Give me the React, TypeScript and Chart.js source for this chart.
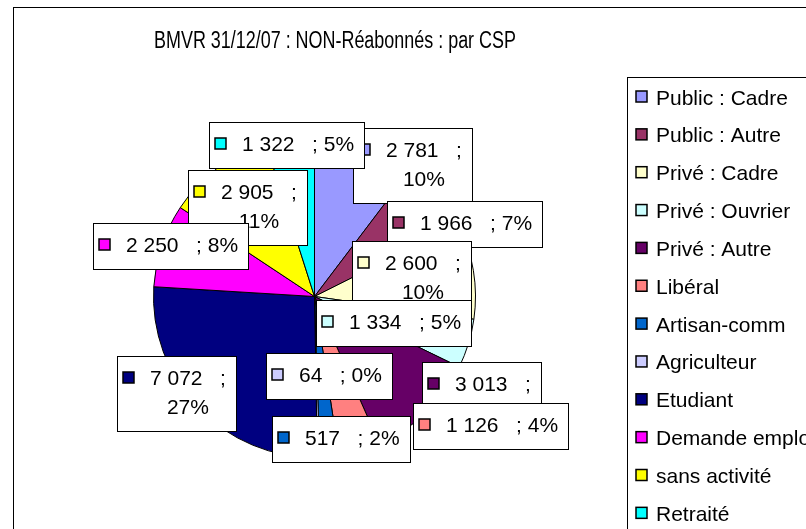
import React, { useEffect, useRef } from 'react';
import { Chart, registerables } from 'chart.js';

Chart.register(...registerables);

const TITLE = 'BMVR 31/12/07 : NON-Réabonnés : par CSP';
const categories = [
  'Public : Cadre',
  'Public : Autre',
  'Privé : Cadre',
  'Privé : Ouvrier',
  'Privé : Autre',
  'Libéral',
  'Artisan-comm',
  'Agriculteur',
  'Etudiant',
  'Demande emploi',
  'sans activité',
  'Retraité',
];
const values = [2781, 1966, 2600, 1334, 3013, 1126, 517, 64, 7072, 2250, 2905, 1322];
const percentLabels = ['10%', '7%', '10%', '5%', '11%', '4%', '2%', '0%', '27%', '8%', '11%', '5%'];
const colors = [
  '#9999FF',
  '#993366',
  '#FFFFCC',
  '#CCFFFF',
  '#660066',
  '#FF8080',
  '#0066CC',
  '#CCCCFF',
  '#000080',
  '#FF00FF',
  '#FFFF00',
  '#00FFFF',
];

// layout only: label box centre offset from the slice's rim mid-point, and draw order
const labelOffsets: [number, number][] = [
  [47, 22], [26, 30], [-62, 8], [-75, -21], [55, -13], [131, -25],
  [12, -18], [11, -81], [-22, -14], [9, 1], [30, 39], [-3, 8],
];
const labelOrder = [0, 1, 2, 3, 4, 5, 6, 7, 8, 10, 9, 11];

const FONT = '"Liberation Sans", Arial, sans-serif';
const CW = 880;
const CH = 600;

const fmt = (v: number) => String(v).replace(/\B(?=(\d{3})+(?!\d))/g, ' ');

const decorPlugin = {
  id: 'decor',
  beforeDraw(chart: any) {
    const ctx = chart.ctx as CanvasRenderingContext2D;
    ctx.save();
    ctx.fillStyle = '#fff';
    ctx.fillRect(0, 0, chart.width, chart.height);
    ctx.strokeStyle = '#000';
    ctx.lineWidth = 1;
    ctx.strokeRect(13.5, 7.5, chart.width, chart.height);
    // title (condensed, as in the original rendering)
    ctx.fillStyle = '#000';
    ctx.font = `23px ${FONT}`;
    ctx.textAlign = 'left';
    ctx.textBaseline = 'alphabetic';
    ctx.save();
    ctx.translate(154, 48);
    ctx.scale(0.78, 1);
    ctx.fillText(TITLE, 0, 0);
    ctx.restore();
    // legend
    ctx.strokeRect(627.5, 77.5, chart.width, chart.height);
    ctx.font = `21px ${FONT}`;
    const labels = chart.data.labels as string[];
    const bg = chart.data.datasets[0].backgroundColor as string[];
    labels.forEach((lab, i) => {
      const cy = 97 + i * 37.85;
      ctx.fillStyle = bg[i];
      ctx.fillRect(636, cy - 6, 11, 11);
      ctx.lineWidth = 1.5;
      ctx.strokeStyle = '#000';
      ctx.strokeRect(636, cy - 6, 11, 11);
      ctx.fillStyle = '#000';
      ctx.fillText(lab, 656, cy + 7.5);
    });
    ctx.restore();
  },
  afterDatasetsDraw(chart: any) {
    const ctx = chart.ctx as CanvasRenderingContext2D;
    const meta = chart.getDatasetMeta(0);
    const ds = chart.data.datasets[0];
    const bg = ds.backgroundColor as string[];
    const data = ds.data as number[];
    ctx.save();
    ctx.font = `21px ${FONT}`;
    ctx.textBaseline = 'alphabetic';
    const MAXW = 118;
    labelOrder.forEach((i) => {
      const arc = meta.data[i];
      const p = arc.getProps(['x', 'y', 'startAngle', 'endAngle', 'outerRadius'], true);
      const mid = (p.startAngle + p.endAngle) / 2;
      const px = p.x + Math.cos(mid) * p.outerRadius;
      const py = p.y + Math.sin(mid) * p.outerRadius;
      const bx = px + labelOffsets[i][0];
      const by = py + labelOffsets[i][1];
      const first = fmt(data[i]) + '   ;';
      const full = first + ' ' + percentLabels[i];
      let lines = [full];
      if (ctx.measureText(full).width > MAXW) lines = [first, percentLabels[i]];
      const tw = Math.max(...lines.map((l) => ctx.measureText(l).width));
      const boxW = Math.round(5 + 12 + 16 + tw + 10);
      const boxH = 46 + 29 * (lines.length - 1);
      const left = Math.round(bx - boxW / 2);
      const top = Math.round(by - boxH / 2);
      ctx.fillStyle = '#fff';
      ctx.fillRect(left, top, boxW, boxH);
      ctx.strokeStyle = '#000';
      ctx.lineWidth = 1;
      ctx.strokeRect(left + 0.5, top + 0.5, boxW, boxH);
      ctx.fillStyle = bg[i];
      ctx.fillRect(left + 6, top + 16, 11, 11);
      ctx.lineWidth = 1.5;
      ctx.strokeRect(left + 6, top + 16, 11, 11);
      ctx.fillStyle = '#000';
      const tx = left + 33;
      lines.forEach((l, k) => {
        const w = ctx.measureText(l).width;
        ctx.textAlign = 'left';
        ctx.fillText(l, tx + (tw - w) / 2, top + 28.5 + k * 29);
      });
    });
    ctx.restore();
  },
};

export default function App() {
  const ref = useRef<HTMLCanvasElement>(null);
  useEffect(() => {
    if (!ref.current) return;
    const chart = new Chart(ref.current, {
      type: 'pie',
      data: {
        labels: categories,
        datasets: [
          {
            data: values,
            backgroundColor: colors,
            borderColor: '#000',
            borderWidth: 1,
          },
        ],
      },
      options: {
        responsive: false,
        animation: false,
        devicePixelRatio: 1,
        layout: {
          padding: { left: 153, top: 135, right: CW - 476, bottom: CH - 458 },
        },
        plugins: {
          legend: { display: false },
          title: { display: false },
          tooltip: { enabled: false },
        },
      },
      plugins: [decorPlugin],
    });
    return () => chart.destroy();
  }, []);
  return (
    <div style={{ position: 'fixed', left: 0, top: 0, width: 806, height: 529, overflow: 'hidden', background: '#fff' }}>
      <canvas ref={ref} width={CW} height={CH} style={{ width: CW, height: CH, display: 'block' }} />
    </div>
  );
}
